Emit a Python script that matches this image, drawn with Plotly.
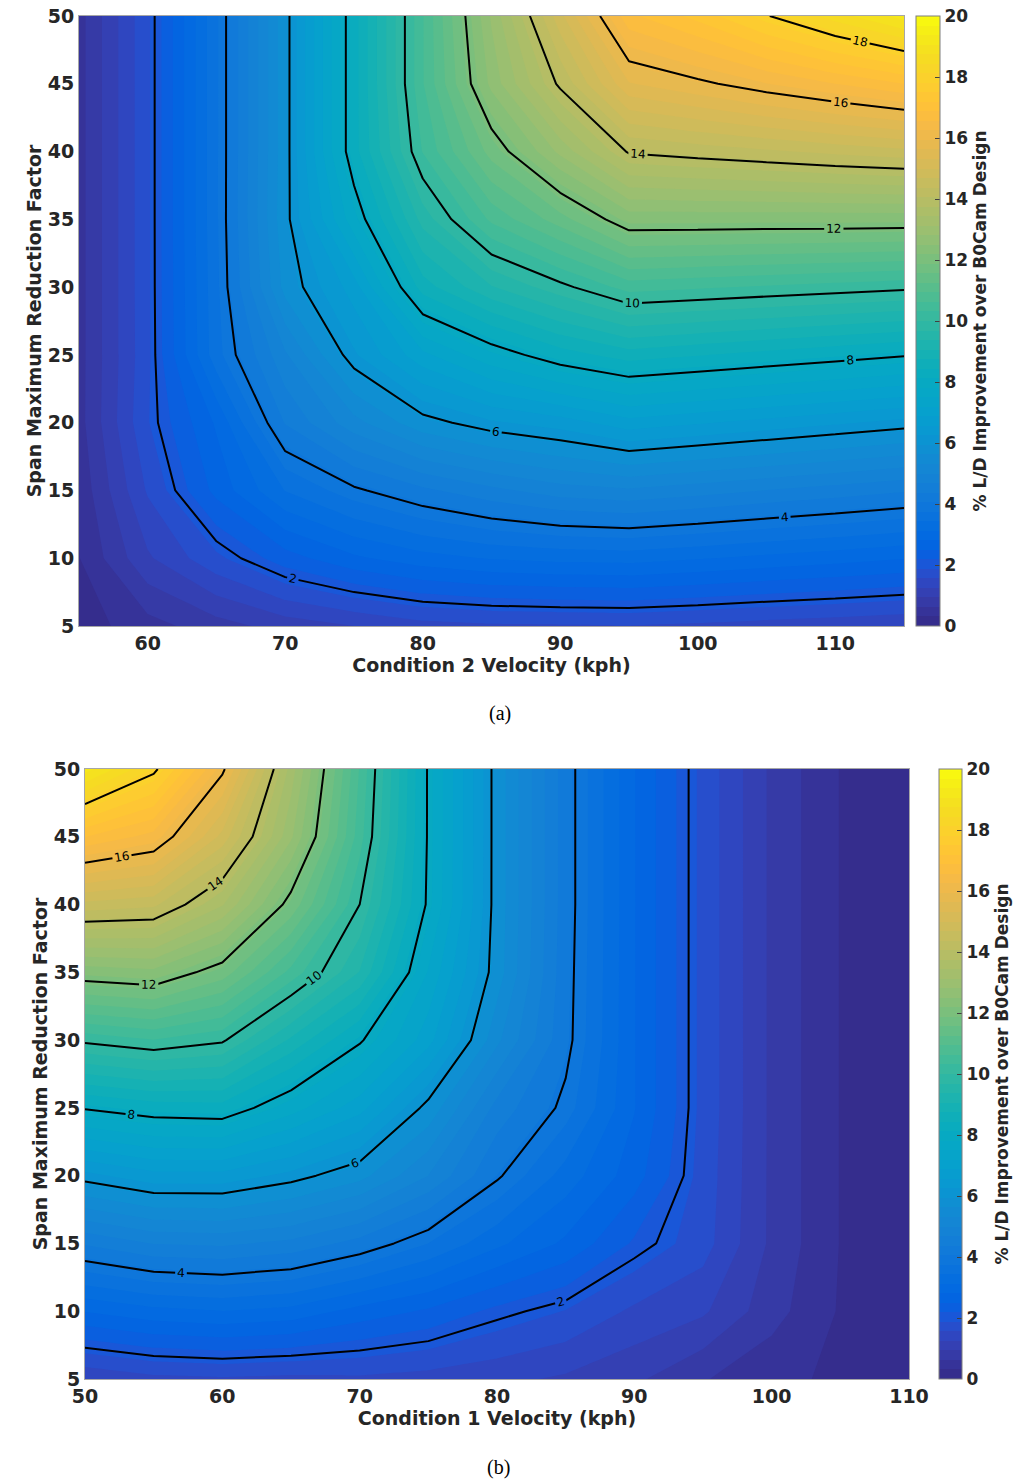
import plotly.graph_objects as go

# ---------------- data ----------------
span_factor = [5, 10, 15, 20, 25, 30, 35, 40, 45, 50]

cond2_velocity = [55, 60, 65, 70, 75, 80, 85, 90, 95, 100, 105, 110, 115]
improvement_a = [
    [0.15, 0.50, 0.80, 1.07, 1.25, 1.44, 1.51, 1.53, 1.55, 1.49, 1.42, 1.36, 1.29],
    [0.30, 1.20, 1.80, 2.36, 2.75, 3.00, 3.15, 3.22, 3.25, 3.15, 3.04, 2.94, 2.83],
    [0.40, 1.60, 2.60, 3.45, 3.93, 4.30, 4.60, 4.85, 4.95, 4.82, 4.68, 4.55, 4.41],
    [0.50, 1.85, 2.86, 4.40, 5.20, 5.85, 6.20, 6.40, 6.75, 6.60, 6.45, 6.30, 6.15],
    [0.50, 1.80, 3.63, 4.95, 6.20, 7.10, 7.75, 8.27, 8.60, 8.46, 8.32, 8.18, 8.04],
    [0.50, 1.81, 3.67, 5.75, 6.72, 8.60, 9.35, 9.89, 10.45, 10.36, 10.27, 10.18, 10.09],
    [0.50, 1.81, 3.70, 5.88, 7.71, 9.50, 10.70, 11.42, 12.30, 12.30, 12.29, 12.29, 12.28],
    [0.50, 1.81, 3.70, 5.85, 8.29, 10.33, 11.70, 12.90, 14.05, 14.19, 14.32, 14.46, 14.59],
    [0.50, 1.81, 3.70, 5.85, 8.29, 10.60, 12.60, 14.09, 15.60, 15.90, 16.24, 16.56, 16.88],
    [0.50, 1.81, 3.70, 5.85, 8.29, 10.60, 12.86, 14.90, 16.80, 17.30, 17.97, 18.60, 19.20],
]

cond1_velocity = [50, 55, 60, 65, 70, 75, 80, 85, 90, 95, 100, 105, 110]
improvement_b = [
    [1.29, 1.47, 1.52, 1.47, 1.50, 1.43, 1.33, 1.20, 1.00, 0.65, 0.40, 0.25, 0.05],
    [2.83, 3.03, 3.12, 3.02, 2.69, 2.45, 2.10, 1.86, 1.50, 1.30, 0.75, 0.28, 0.10],
    [4.41, 4.70, 4.75, 4.60, 4.25, 3.75, 3.20, 2.75, 2.14, 1.70, 0.87, 0.30, 0.12],
    [6.15, 6.45, 6.45, 6.15, 5.74, 5.00, 4.06, 3.30, 2.64, 1.75, 0.87, 0.30, 0.12],
    [8.04, 8.25, 8.30, 7.65, 7.00, 5.86, 4.57, 3.90, 2.83, 1.78, 0.87, 0.30, 0.12],
    [10.09, 10.30, 10.06, 9.00, 8.06, 7.00, 5.39, 4.13, 2.83, 1.78, 0.87, 0.30, 0.12],
    [12.28, 12.40, 11.75, 10.52, 9.36, 7.47, 5.80, 4.16, 2.83, 1.78, 0.87, 0.30, 0.12],
    [14.59, 14.45, 13.47, 11.80, 10.00, 7.92, 5.83, 4.19, 2.83, 1.78, 0.87, 0.30, 0.12],
    [16.88, 16.43, 14.89, 12.87, 10.45, 7.95, 5.83, 4.19, 2.83, 1.78, 0.87, 0.30, 0.12],
    [19.20, 18.12, 16.10, 13.30, 10.60, 7.95, 5.83, 4.19, 2.83, 1.78, 0.87, 0.30, 0.12],
]

x_ticks_a = [60, 70, 80, 90, 100, 110]
x_ticks_b = [50, 60, 70, 80, 90, 100, 110]
y_ticks = [5, 10, 15, 20, 25, 30, 35, 40, 45, 50]
cbar_ticks = [0, 2, 4, 6, 8, 10, 12, 14, 16, 18, 20]
line_levels = dict(start=2, end=18, size=2)

# MATLAB parula (64)
parula = [
    (0.2081, 0.1663, 0.5292), (0.2116, 0.1898, 0.5777), (0.2123, 0.2138, 0.6270), (0.2081, 0.2386, 0.6771),
    (0.1959, 0.2645, 0.7279), (0.1707, 0.2919, 0.7792), (0.1253, 0.3242, 0.8303), (0.0591, 0.3598, 0.8683),
    (0.0117, 0.3875, 0.8820), (0.0060, 0.4086, 0.8828), (0.0165, 0.4266, 0.8786), (0.0329, 0.4430, 0.8720),
    (0.0498, 0.4586, 0.8641), (0.0629, 0.4737, 0.8554), (0.0723, 0.4887, 0.8467), (0.0779, 0.5040, 0.8384),
    (0.0793, 0.5200, 0.8312), (0.0749, 0.5375, 0.8263), (0.0641, 0.5570, 0.8240), (0.0488, 0.5772, 0.8228),
    (0.0343, 0.5966, 0.8199), (0.0265, 0.6137, 0.8135), (0.0239, 0.6287, 0.8038), (0.0231, 0.6418, 0.7913),
    (0.0228, 0.6535, 0.7768), (0.0267, 0.6642, 0.7607), (0.0384, 0.6743, 0.7436), (0.0590, 0.6838, 0.7254),
    (0.0843, 0.6928, 0.7062), (0.1133, 0.7015, 0.6859), (0.1453, 0.7098, 0.6646), (0.1801, 0.7177, 0.6424),
    (0.2178, 0.7250, 0.6193), (0.2586, 0.7317, 0.5954), (0.3022, 0.7376, 0.5712), (0.3482, 0.7424, 0.5473),
    (0.3953, 0.7459, 0.5244), (0.4420, 0.7481, 0.5033), (0.4871, 0.7491, 0.4840), (0.5300, 0.7491, 0.4661),
    (0.5709, 0.7485, 0.4494), (0.6099, 0.7473, 0.4337), (0.6473, 0.7456, 0.4188), (0.6834, 0.7435, 0.4044),
    (0.7184, 0.7411, 0.3905), (0.7525, 0.7384, 0.3768), (0.7858, 0.7356, 0.3633), (0.8185, 0.7327, 0.3498),
    (0.8507, 0.7299, 0.3360), (0.8824, 0.7274, 0.3217), (0.9139, 0.7258, 0.3063), (0.9450, 0.7261, 0.2886),
    (0.9739, 0.7314, 0.2666), (0.9938, 0.7455, 0.2403), (0.9990, 0.7653, 0.2164), (0.9955, 0.7861, 0.1967),
    (0.9880, 0.8066, 0.1794), (0.9789, 0.8271, 0.1633), (0.9697, 0.8481, 0.1475), (0.9626, 0.8705, 0.1309),
    (0.9589, 0.8949, 0.1132), (0.9598, 0.9218, 0.0948), (0.9661, 0.9514, 0.0755), (0.9763, 0.9831, 0.0538),
]
n = len(parula)
colorscale = [[i / (n - 1), "rgb(%d,%d,%d)" % (round(r * 255), round(g * 255), round(b * 255))]
              for i, (r, g, b) in enumerate(parula)]

W, H = 1024, 1483
FONT = "DejaVu Sans"
TXT = "#262626"
axis_tickfont = dict(family=FONT, size=19, color=TXT, weight="bold")
axis_titlefont = dict(family=FONT, size=19, color=TXT, weight="bold")
cb_tickfont = dict(family=FONT, size=17, color=TXT, weight="bold")
cb_titlefont = dict(family=FONT, size=17, color=TXT, weight="bold")
cb_title = "% L/D Improvement over B0Cam Design"
NBSP = "\u00a0"

# panel geometry in pixels (left, right, top, bottom)
panels = [
    dict(x=cond2_velocity, z=improvement_a, box=(79, 904, 16, 626), cb=(916, 940),
         xticks=x_ticks_a, xtitle="Condition 2 Velocity (kph)", caption="(a)", cap=(500, 713),
         suffix=NBSP),
    dict(x=cond1_velocity, z=improvement_b, box=(85, 909, 769, 1379), cb=(939, 962),
         xticks=x_ticks_b, xtitle="Condition 1 Velocity (kph)", caption="(b)", cap=(498, 1467),
         suffix=NBSP),
]

fig = go.Figure()
layout_axes = {}
annotations = []
for i, p in enumerate(panels):
    sfx = "" if i == 0 else str(i + 1)
    l, r, t, b = p["box"]
    xa, ya = "x" + sfx, "y" + sfx
    cbl, cbr = p["cb"]
    fig.add_trace(go.Contour(
        x=p["x"], y=span_factor, z=p["z"], xaxis=xa, yaxis=ya,
        colorscale=colorscale, zmin=0, zmax=20,
        contours=dict(coloring="fill", start=0, end=20, size=20 / 64, showlines=False),
        line=dict(width=0, smoothing=0),
        hoverinfo="skip",
        colorbar=dict(
            x=cbl / W, xanchor="left", xpad=0, ypad=0,
            y=1 - t / H, yanchor="top", len=(b - t) / H, lenmode="fraction",
            thickness=cbr - cbl, thicknessmode="pixels",
            outlinewidth=1, outlinecolor="#7f7f7f",
            tickmode="array", tickvals=cbar_ticks,
            ticks="inside", ticklen=5, tickcolor="#404040",
            tickfont=cb_tickfont, ticksuffix=p["suffix"],
            title=dict(text=cb_title, side="right", font=cb_titlefont),
        ),
    ))
    fig.add_trace(go.Contour(
        x=p["x"], y=span_factor, z=p["z"], xaxis=xa, yaxis=ya,
        showscale=False, hoverinfo="skip",
        contours=dict(coloring="none", showlabels=True,
                      labelfont=dict(family=FONT, size=12, color="black"), **line_levels),
        line=dict(color="black", width=2, smoothing=0),
    ))
    layout_axes["xaxis" + sfx] = dict(
        domain=[l / W, r / W], range=[p["x"][0], p["x"][-1]], anchor=ya, automargin=False,
        tickmode="array", tickvals=p["xticks"], tickfont=axis_tickfont, ticks="",
        showgrid=False, zeroline=False, showline=True, mirror=True,
        linecolor="#a6a6a6", linewidth=1,
        title=dict(text=p["xtitle"], font=axis_titlefont, standoff=4),
    )
    layout_axes["yaxis" + sfx] = dict(
        domain=[1 - b / H, 1 - t / H], range=[span_factor[0], span_factor[-1]], anchor=xa,
        automargin=False,
        tickmode="array", tickvals=y_ticks, tickfont=axis_tickfont, ticks="",
        showgrid=False, zeroline=False, showline=True, mirror=True,
        linecolor="#a6a6a6", linewidth=1,
        title=dict(text="Span Maximum Reduction Factor", font=axis_titlefont, standoff=1),
    )
    annotations.append(dict(
        text=p["caption"], x=p["cap"][0] / W, y=1 - p["cap"][1] / H, xref="paper", yref="paper",
        xanchor="center", yanchor="middle", showarrow=False,
        font=dict(family="Liberation Serif", size=20, color="black"),
    ))

fig.update_layout(
    width=W, height=H, margin=dict(l=0, r=0, t=0, b=0, autoexpand=False),
    paper_bgcolor="white", plot_bgcolor="white", showlegend=False,
    annotations=annotations, **layout_axes,
)

fig.write_html("out.html", config={"displayModeBar": False},
               post_script="document.body.style.margin='0';document.body.style.overflow='hidden';")
